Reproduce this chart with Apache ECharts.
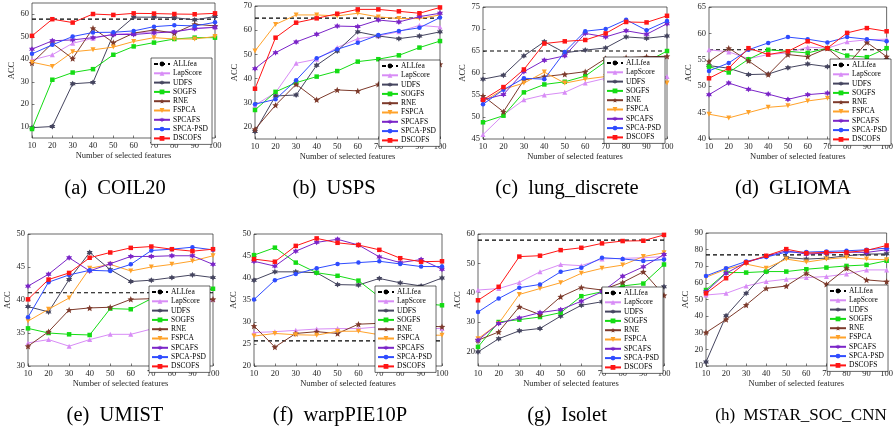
<!DOCTYPE html>
<html lang="en">
<head>
    <meta charset="utf-8">
    <title>ACC vs number of selected features</title>
    <script src="https://cdn.jsdelivr.net/npm/echarts@6.0.0/dist/echarts.min.js"></script>
    <style>
        html, body { margin: 0; padding: 0; background: #fff; }
        #main { width: 896px; height: 432px; }
    </style>
</head>
<body>
<div id="main"></div>
<script type="text/javascript">
    // x axis: number of selected features
    var features = [10, 20, 30, 40, 50, 60, 70, 80, 90, 100];
    var methods = ['LapScore', 'UDFS', 'SOGFS', 'RNE', 'FSPCA', 'SPCAFS', 'SPCA-PSD', 'DSCOFS'];
    var captions = ['(a)  COIL20', '(b)  USPS', '(c)  lung_discrete', '(d)  GLIOMA',
        '(e)  UMIST', '(f)  warpPIE10P', '(g)  Isolet', '(h)  MSTAR_SOC_CNN'];
    // ACC using all features (dashed line)
    var allfea = [57.8, 65, 65, 56.9, 41.1, 25.7, 57.9, 76.9];

    // rows follow the order of methods
    var coil20 = [
        [39.7, 42, 47.1, 49.3, 51.1, 51.6, 52.2, 52.2, 53.8, 54.2],
        [9.6, 10.1, 29.1, 29.7, 51, 58.7, 58.7, 58.5, 57.5, 59],
        [9, 30.9, 34.1, 35.6, 42, 45.7, 47.4, 49, 49.6, 49.6],
        [38.3, 47.1, 40.3, 53.8, 47.4, 51.6, 53, 51.6, 55.6, 54.8],
        [38.7, 36.8, 43.3, 44.2, 45.4, 47.9, 49.6, 49, 49, 50.1],
        [44.5, 48.2, 48.6, 49.6, 51, 51, 51.7, 52.2, 53.6, 54.2],
        [42.4, 46.4, 50.1, 51.9, 52, 52.6, 54.5, 55.1, 54.8, 56.4],
        [50.4, 57.8, 56.3, 60.1, 59.7, 60.4, 60.3, 60.1, 60, 60.4]
    ];
    var usps = [
        [29, 34.2, 46.3, 48, 52.8, 56.5, 57.6, 59.4, 62, 61.3],
        [18.1, 32.8, 33.2, 45.5, 51.4, 59.3, 57.6, 56.5, 57.6, 59.3],
        [27, 34.5, 38.3, 40.8, 43.1, 47, 48, 49.6, 52.8, 55.5],
        [19, 29, 37.6, 31.2, 35.3, 34.9, 37.6, 40, 42, 45.9],
        [51.4, 62.4, 66.3, 66.3, 65.9, 67, 65.5, 64.8, 64.8, 66.3],
        [44.1, 50.7, 55.1, 58.3, 61.7, 61.5, 64.2, 63.4, 65.6, 67],
        [29.4, 31.4, 39.3, 48.4, 52.1, 54.8, 58, 59.7, 61, 65.2],
        [35.8, 56.9, 63.1, 64.9, 66.8, 68.6, 68.6, 67.8, 67, 69.4]
    ];
    var lung = [
        [46, 50.5, 53.9, 55, 55.6, 57.7, 58.8, 59, 59.1, 59.2],
        [58.6, 59.5, 63.9, 67.1, 64.6, 65.2, 65.7, 68.2, 67.9, 68.4],
        [48.8, 50.3, 55.6, 57.4, 58, 59.3, 62.6, 62.8, 62.5, 65],
        [54.8, 51.2, 58.4, 59.2, 59.7, 60.3, 63.3, 63.5, 63.7, 63.8],
        [53.5, 56.3, 57.7, 60.2, 57.7, 58.6, 59.2, 58.8, 58.5, 57.7],
        [53.9, 55.1, 60.3, 62.9, 63.9, 69, 68.2, 69.6, 68.8, 71.2],
        [52.9, 56.2, 58.8, 58.6, 64.8, 69.5, 70, 72.1, 69.7, 71.8],
        [53.9, 56.8, 60.8, 66.7, 67.2, 67.5, 69, 71.6, 71.5, 73]
    ];
    var glioma = [
        [56.9, 56.5, 55.2, 56, 56.3, 57.4, 57.2, 58.4, 58.8, 58.9],
        [53.9, 53.4, 52.2, 52.3, 53.5, 54.2, 53.7, 54, 54.5, 55],
        [53.7, 52.6, 55.1, 56.9, 56.6, 56.3, 57.2, 55.8, 55.5, 57.2],
        [54.7, 57.2, 54.8, 52.2, 56, 55.6, 57.2, 54, 58.3, 55.6],
        [44.7, 44, 45, 46, 46.3, 47.2, 47.7, 47.8, 47.6, 47.5],
        [48.4, 50.6, 49.4, 48.5, 47.5, 48.4, 48.7, 48.8, 48.9, 49],
        [52.9, 54.4, 56.9, 58.2, 59.3, 58.9, 58.3, 59.3, 58.9, 58.5],
        [51.5, 53.4, 57.2, 56, 56.6, 58.5, 57.2, 60.1, 61, 60.4]
    ];
    var umist = [
        [33.5, 34, 33, 34, 34.8, 34.8, 35.6, 36.5, 38, 40.1],
        [39, 38.2, 43.1, 47.2, 44.6, 42.8, 43, 43.4, 43.8, 43.4],
        [35.7, 35, 34.8, 34.7, 38.7, 38.6, 40.2, 40.7, 41.2, 41.7],
        [33, 35.2, 38.5, 38.8, 38.9, 40.1, 40.2, 40.2, 40.1, 40.1],
        [36.8, 38.6, 40.3, 44.8, 45.4, 44.4, 45, 45.4, 45.9, 46.7],
        [42.1, 43.9, 46.4, 44.4, 45.5, 46.6, 46.6, 46.7, 46.7, 45.4],
        [37.4, 42.7, 43.8, 44.5, 44.4, 45.4, 47.5, 47.7, 48, 47.6],
        [40.1, 43.1, 44.1, 46.4, 47.2, 47.9, 48.1, 47.7, 47.4, 47.7]
    ];
    var warppie = [
        [27.6, 27.8, 28.1, 28.4, 28.5, 28.5, 28.9, 28.8, 28.6, 28.5],
        [39.5, 41.4, 41.4, 41.2, 38.5, 38.4, 39.9, 38.9, 38.2, 40],
        [45.2, 46.9, 43.5, 41.2, 40.5, 39.4, 35.7, 34.8, 34.2, 33.8],
        [29.1, 24.3, 27.4, 27.8, 27.4, 29.5, 29.7, 29.5, 29.2, 28.9],
        [26.8, 27.4, 27.1, 27, 27.9, 27.9, 27.1, 27.2, 27, 27],
        [43.8, 42.7, 46.1, 48.1, 48.8, 47.5, 44.8, 43.5, 44.2, 42],
        [35.1, 39.5, 40.9, 42.2, 43.2, 43.5, 43.8, 43.2, 42.6, 42.6],
        [44.3, 43.7, 47.3, 49, 48, 47.5, 46.4, 44.5, 43.7, 43.8]
    ];
    var isolet = [
        [40.9, 41.4, 43.5, 47.1, 49.6, 49.2, 51.5, 51.7, 51.9, 52.3],
        [19.8, 24.3, 27, 27.8, 32, 35.7, 36.9, 38, 39.5, 42],
        [21.5, 30, 30.8, 31.7, 33.2, 38.8, 40.3, 42.3, 43.1, 49.6],
        [23.8, 26.6, 35.2, 32.5, 38.6, 41.8, 40.9, 43.5, 47.1, 39.1],
        [24.3, 29.5, 39.4, 41.4, 43.4, 46.6, 48.3, 49.4, 52.3, 53.6],
        [23.8, 29.5, 31.4, 33.2, 34.2, 37.1, 40.3, 45.6, 48.8, 53],
        [33.4, 38, 41.7, 42.8, 47.1, 48.5, 51.9, 51.5, 50.8, 51.3],
        [37.4, 42, 52.3, 52.6, 54.5, 55.3, 56.8, 57.6, 57.7, 59.7]
    ];
    var mstar = [
        [52.7, 53.7, 58.1, 60.8, 62.2, 63.2, 63.8, 65.4, 67.8, 67.8],
        [12.4, 40.2, 53.7, 66.8, 75.3, 74.3, 74.9, 76.3, 77.3, 77.5],
        [55.7, 66.2, 66.2, 66.8, 66.8, 68.2, 69.2, 70.2, 70.8, 73.3],
        [30.1, 38, 46.7, 56.7, 58.1, 65.8, 59.2, 68.8, 61.8, 60.8],
        [63.4, 68.2, 71.3, 68.8, 74.3, 72.5, 74.3, 75.3, 74.3, 73.9],
        [54.7, 65.8, 72.3, 75.9, 79.3, 77.3, 77.9, 78.5, 78.3, 79.9],
        [64.2, 68.8, 72.9, 75.5, 78.5, 78.5, 78.9, 79.3, 79.9, 80.9],
        [53.7, 62.8, 72.3, 76.3, 80.3, 77.9, 78.3, 78.3, 79.5, 82.5]
    ];
    var panelData = [coil20, usps, lung, glioma, umist, warppie, isolet, mstar];

    // y axis range and tick labels of every panel
    var yMin = [5, 15, 45, 40, 30, 20, 15, 10];
    var yMax = [65, 70, 75, 65, 50, 50, 60, 90];
    var yTicks = [
        [10, 20, 30, 40, 50, 60],
        [20, 30, 40, 50, 60, 70],
        [45, 50, 55, 60, 65, 70, 75],
        [40, 45, 50, 55, 60, 65],
        [30, 35, 40, 45, 50],
        [20, 25, 30, 35, 40, 45, 50],
        [20, 30, 40, 50, 60],
        [10, 20, 30, 40, 50, 60, 70, 80, 90]
    ];

    // layout: plot box [left, top, width, height], legend [left, top], caption centre and size
    var boxes = [
        [32, 3, 183, 135], [255, 6, 185, 133], [483, 7, 184, 132], [709, 7, 187, 132],
        [28, 234, 185, 132], [254, 234, 188, 132], [478, 234, 186, 132], [706, 233, 184, 133]
    ];
    var legendPos = [
        [151, 58], [379, 60], [604, 57], [830, 59],
        [149, 286], [375, 286], [602, 287], [827, 285]
    ];
    var captionPos = [
        [115, 189], [334, 189], [567, 189], [793, 189],
        [115, 416], [340, 416], [567, 416], [801, 416]
    ];
    var captionSize = [20.5, 20.5, 20.5, 20.5, 20.5, 20.5, 20.5, 17];

    var serif = "'Liberation Serif', 'DejaVu Serif', serif";
    var axisColor = '#262626';

    // n-point star marker as an svg path
    function starPath(n, inner) {
        var pts = [];
        for (var i = 0; i < 2 * n; i++) {
            var r = i % 2 ? inner : 1;
            var a = -Math.PI / 2 + i * Math.PI / n;
            pts.push((50 + 50 * r * Math.cos(a)).toFixed(1) + ',' + (50 + 50 * r * Math.sin(a)).toFixed(1));
        }
        return 'path://M' + pts.join('L') + 'Z';
    }

    var styles = {
        'LapScore': {color: '#d88cf6', symbol: 'triangle', size: 5, rotate: 0},
        'UDFS': {color: '#45455f', symbol: starPath(6, 0.55), size: 6, rotate: 0},
        'SOGFS': {color: '#14dc14', symbol: 'rect', size: 4.5, rotate: 0},
        'RNE': {color: '#7d3a2b', symbol: starPath(5, 0.45), size: 6.5, rotate: 0},
        'FSPCA': {color: '#ffa22a', symbol: 'triangle', size: 5, rotate: 180},
        'SPCAFS': {color: '#7b25c8', symbol: starPath(6, 0.55), size: 6, rotate: 0},
        'SPCA-PSD': {color: '#2f4cff', symbol: 'circle', size: 4.5, rotate: 0},
        'DSCOFS': {color: '#ff1515', symbol: 'rect', size: 4.5, rotate: 0}
    };

    var grids = [], xAxes = [], yAxes = [], series = [], legends = [], texts = [];

    for (var i = 0; i < 8; i++) {
        var b = boxes[i];
        grids.push({
            left: b[0], top: b[1], width: b[2], height: b[3],
            show: true, borderColor: axisColor, borderWidth: 0.7
        });
        xAxes.push({
            gridIndex: i, type: 'value', min: 10, max: 100, interval: 10,
            name: 'Number of selected features', nameLocation: 'middle', nameGap: 13,
            nameTextStyle: {fontFamily: serif, fontSize: 8.5, color: axisColor},
            axisLine: {show: false},
            axisTick: {inside: true, length: 2.5, lineStyle: {color: axisColor, width: 0.6}},
            axisLabel: {fontFamily: serif, fontSize: 8.5, color: axisColor, margin: 3},
            splitLine: {show: false}
        });
        yAxes.push({
            gridIndex: i, type: 'value', min: yMin[i], max: yMax[i],
            name: 'ACC', nameLocation: 'middle', nameGap: 11,
            nameTextStyle: {fontFamily: serif, fontSize: 8.5, color: axisColor},
            axisLine: {show: false},
            axisTick: {inside: true, length: 2.5, customValues: yTicks[i], lineStyle: {color: axisColor, width: 0.6}},
            axisLabel: {fontFamily: serif, fontSize: 8.5, color: axisColor, margin: 3, customValues: yTicks[i]},
            splitLine: {show: false}
        });

        // baseline with all features
        series.push({
            type: 'line', name: 'ALLfea', xAxisIndex: i, yAxisIndex: i,
            data: features.map(function (x) { return [x, allfea[i]]; }),
            symbol: 'none', lineStyle: {color: '#000', width: 1.2, type: [4, 3]},
            itemStyle: {color: '#000'}, z: 2
        });
        var rows = panelData[i];
        for (var m = 0; m < methods.length; m++) {
            var st = styles[methods[m]];
            var vals = rows[m];
            series.push({
                type: 'line', name: methods[m], xAxisIndex: i, yAxisIndex: i,
                data: features.map(function (x, k) { return [x, vals[k]]; }),
                symbol: st.symbol, symbolSize: st.size, symbolRotate: st.rotate, showAllSymbol: true,
                lineStyle: {color: st.color, width: 1},
                itemStyle: {color: st.color},
                z: 3 + m
            });
        }

        // legend box sits on top of the lines, like the matlab figure
        legends.push({
            left: legendPos[i][0], top: legendPos[i][1], orient: 'vertical', z: 30,
            itemWidth: 16, itemHeight: 6, itemGap: 1.3,
            padding: [2, 4, 2, 2],
            backgroundColor: '#fff', borderColor: '#000', borderWidth: 0.6, borderRadius: 0,
            selectedMode: false,
            textStyle: {fontFamily: serif, fontSize: 7.5, lineHeight: 7, color: '#000', padding: [0, 0, 0, -2]},
            data: ['ALLfea'].concat(methods)
        });

        texts.push({
            type: 'text', x: captionPos[i][0], y: captionPos[i][1], silent: true,
            style: {
                text: captions[i], fill: '#000', fontFamily: serif, fontSize: captionSize[i],
                align: 'center', verticalAlign: 'middle'
            }
        });
    }

    var myChart = echarts.init(document.getElementById('main'));
    myChart.setOption({
        animation: false,
        backgroundColor: '#fff',
        grid: grids,
        xAxis: xAxes,
        yAxis: yAxes,
        legend: legends,
        series: series,
        graphic: texts
    });
</script>
</body>
</html>
